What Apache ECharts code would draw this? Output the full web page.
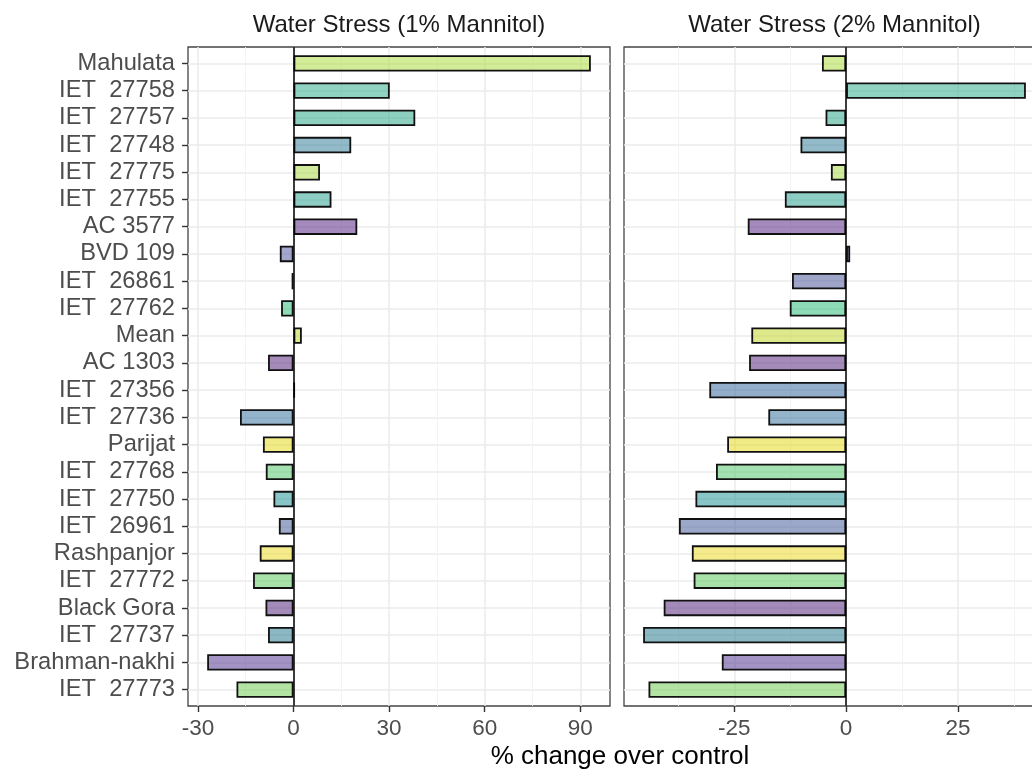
<!DOCTYPE html>
<html>
<head>
<meta charset="utf-8">
<script src="https://cdn.jsdelivr.net/npm/echarts@6/dist/echarts.min.js"></script>
<style>
  html, body { margin: 0; padding: 0; background: #fff; }
  #main { width: 1032px; height: 771px; }
</style>
</head>
<body>
<div id="main"></div>
<script>
// varieties, top to bottom
var categories = ['Mahulata', 'IET  27758', 'IET  27757', 'IET  27748', 'IET  27775', 'IET  27755',
  'AC 3577', 'BVD 109', 'IET  26861', 'IET  27762', 'Mean', 'AC 1303', 'IET  27356', 'IET  27736',
  'Parijat', 'IET  27768', 'IET  27750', 'IET  26961', 'Rashpanjor', 'IET  27772', 'Black Gora',
  'IET  27737', 'Brahman-nakhi', 'IET  27773'];

// % change over control
var stress1 = [93.3, 30.2, 38.2, 18.1, 8.3, 11.9, 20.0, -4.3, -0.6, -3.9, 2.6, -8.0, 0.4, -16.8,
  -9.6, -8.7, -6.3, -4.6, -10.6, -12.7, -8.8, -8.0, -27.1, -17.9];
var stress2 = [-5.4, 40.2, -4.6, -10.2, -3.4, -13.7, -22.0, 0.9, -12.1, -12.6, -21.2, -21.7, -30.6, -17.4,
  -26.6, -29.1, -33.7, -37.4, -34.5, -34.1, -40.8, -45.4, -27.8, -44.2];

var panelTitles = ['Water Stress (1% Mannitol)', 'Water Stress (2% Mannitol)'];
var xTitle = '% change over control';

var ticks1 = [-30, 0, 30, 60, 90];
var minor1 = [-15, 15, 45, 75];
var ticks2 = [-25, 0, 25];
var minor2 = [-37.5, -12.5, 12.5, 37.5];

// fill per variety (drawn at 50% alpha like the original)
var fills = ['167,217,49', '31,165,133', '27,161,129', '37,117,145', '161,215,57', '27,155,135',
  '75,23,123', '73,77,157', '63,75,145', '29,183,113', '187,211,21', '73,23,117', '39,93,151',
  '39,105,151', '227,215,13', '71,197,97', '19,141,143', '57,81,149', '235,215,23', '81,197,81',
  '73,21,115', '25,113,137', '71,39,137', '105,201,73'];

var FONT = '"Liberation Sans", Arial, sans-serif';

// ggplot style 5% expansion
function expand(vals) {
  var lo = Math.min.apply(null, vals), hi = Math.max.apply(null, vals);
  var pad = (hi - lo) * 0.05;
  return [lo - pad, hi + pad];
}
var lim1 = expand(stress1);
var lim2 = expand(stress2);

// panel box, and the inner box holding the categories (ggplot adds 0.6 band each end)
var panelTop = 47, panelH = 659;
var band = panelH / (categories.length - 1 + 1.2);
var innerTop = panelTop + band * 0.1, innerH = band * categories.length;

var chart = echarts.init(document.getElementById('main'), null, { renderer: 'canvas' });

function majorAxis(grid, lim, ticks) {
  return {
    type: 'value', gridIndex: grid, min: lim[0], max: lim[1], position: 'bottom',
    axisLine: { show: false, onZero: false },
    axisTick: { show: true, length: 6, customValues: ticks, lineStyle: { color: '#333', width: 1.4 } },
    axisLabel: { customValues: ticks, color: '#4d4d4d', fontSize: 22.5, fontFamily: FONT, margin: 11 },
    splitLine: { show: true, lineStyle: { color: '#ebebeb', width: 1.5 } }
  };
}
function minorAxis(grid, lim, ticks) {
  return {
    type: 'value', gridIndex: grid, min: lim[0], max: lim[1], position: 'top',
    axisLine: { show: false, onZero: false },
    axisTick: { show: false, customValues: ticks },
    axisLabel: { show: false },
    splitLine: { show: true, lineStyle: { color: '#f2f2f2', width: 0.9 } }
  };
}
function hiddenX(grid, lim) {
  return { type: 'value', gridIndex: grid, min: lim[0], max: lim[1], show: false };
}
function hiddenY(grid) {
  return { type: 'value', gridIndex: grid, min: 0, max: 1, show: false };
}
function catAxis(grid, showLabels) {
  return {
    type: 'category', gridIndex: grid, data: categories, inverse: true, position: 'left',
    axisLine: { show: false, onZero: false },
    axisTick: { show: showLabels, interval: 0, alignWithLabel: true, length: 6, lineStyle: { color: '#333', width: 1.4 } },
    axisLabel: { show: showLabels, interval: 0, color: '#4d4d4d', fontSize: 23.7, fontFamily: FONT, margin: 13 },
    splitLine: { show: true, interval: 0, alignWithLabel: true, lineStyle: { color: '#ebebeb', width: 1.5 } }
  };
}
function barSeries(xi, yi, values) {
  return {
    type: 'bar', xAxisIndex: xi, yAxisIndex: yi, data: values, barWidth: '60%', z: 3,
    itemStyle: {
      color: function (p) { return 'rgba(' + fills[p.dataIndex] + ',0.5)'; },
      borderColor: '#111', borderWidth: 1.8
    }
  };
}
// zero line across the full panel
function zeroLine(xi, yi) {
  return {
    type: 'line', xAxisIndex: xi, yAxisIndex: yi, data: [], z: 4,
    markLine: {
      silent: true, symbol: 'none', label: { show: false },
      lineStyle: { color: '#000', width: 1.5, type: 'solid' },
      data: [{ xAxis: 0 }]
    }
  };
}
function panelGrid(left, width) {
  return { left: left, top: panelTop, width: width, height: panelH, show: true,
    backgroundColor: 'transparent', borderColor: '#444', borderWidth: 1.3, outerBoundsMode: 'none', containLabel: false };
}
function innerGrid(left, width) {
  return { left: left, top: innerTop, width: width, height: innerH, show: false,
    outerBoundsMode: 'none', containLabel: false };
}

var option = {
  backgroundColor: '#ffffff',
  animation: false,
  grid: [panelGrid(188, 422), panelGrid(624, 421), innerGrid(188, 422), innerGrid(624, 421)],
  xAxis: [
    majorAxis(0, lim1, ticks1), minorAxis(0, lim1, minor1),
    majorAxis(1, lim2, ticks2), minorAxis(1, lim2, minor2),
    hiddenX(2, lim1), hiddenX(3, lim2)
  ],
  yAxis: [hiddenY(0), hiddenY(1), catAxis(2, true), catAxis(3, false)],
  series: [
    barSeries(4, 2, stress1), barSeries(5, 3, stress2),
    zeroLine(0, 0), zeroLine(2, 1)
  ],
  graphic: [
    { type: 'text', x: 399, y: 25.5, silent: true,
      style: { text: panelTitles[0], fill: '#1a1a1a', fontSize: 24, fontFamily: FONT, align: 'center', verticalAlign: 'middle' } },
    { type: 'text', x: 834.5, y: 25.5, silent: true,
      style: { text: panelTitles[1], fill: '#1a1a1a', fontSize: 24, fontFamily: FONT, align: 'center', verticalAlign: 'middle' } },
    { type: 'text', x: 620, y: 757, silent: true,
      style: { text: xTitle, fill: '#000', fontSize: 26, fontFamily: FONT, align: 'center', verticalAlign: 'middle' } }
  ]
};

chart.setOption(option);
</script>
</body>
</html>
